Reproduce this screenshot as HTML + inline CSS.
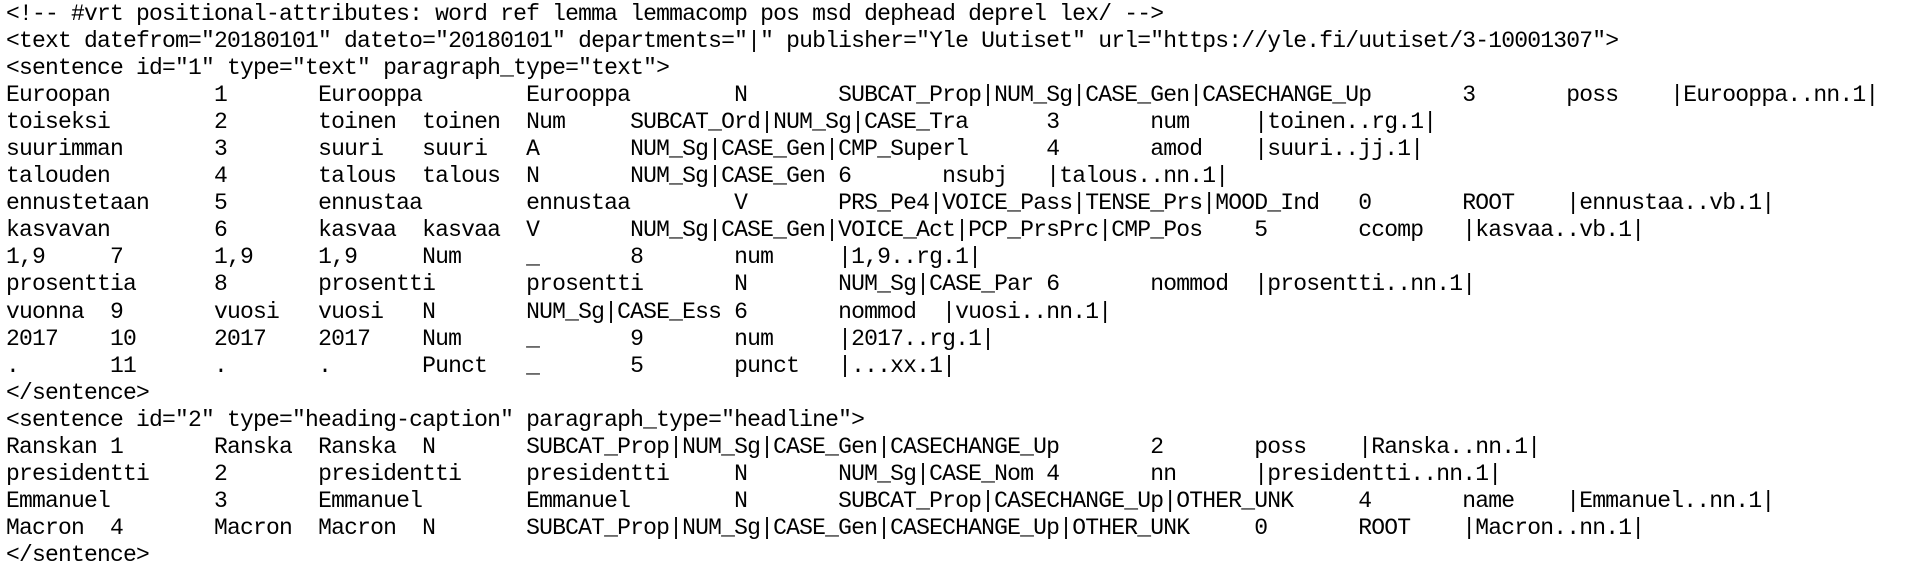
<!DOCTYPE html>
<html><head><meta charset="utf-8"><style>
html,body{margin:0;padding:0;background:#fff;width:1920px;height:570px;overflow:hidden}
pre{margin:0;position:absolute;left:6px;top:1px;font-family:"Liberation Mono",monospace;font-size:23px;letter-spacing:-0.8px;line-height:27.05px;tab-size:8;-moz-tab-size:8;color:#000;white-space:pre}
</style></head><body><pre>&lt;!-- #vrt positional-attributes: word ref lemma lemmacomp pos msd dephead deprel lex/ --&gt;
&lt;text datefrom="20180101" dateto="20180101" departments="|" publisher="Yle Uutiset" url="https://yle.fi/uutiset/3-10001307"&gt;
&lt;sentence id="1" type="text" paragraph_type="text"&gt;
Euroopan&#9;1&#9;Eurooppa&#9;Eurooppa&#9;N&#9;SUBCAT_Prop|NUM_Sg|CASE_Gen|CASECHANGE_Up&#9;3&#9;poss&#9;|Eurooppa..nn.1|
toiseksi&#9;2&#9;toinen&#9;toinen&#9;Num&#9;SUBCAT_Ord|NUM_Sg|CASE_Tra&#9;3&#9;num&#9;|toinen..rg.1|
suurimman&#9;3&#9;suuri&#9;suuri&#9;A&#9;NUM_Sg|CASE_Gen|CMP_Superl&#9;4&#9;amod&#9;|suuri..jj.1|
talouden&#9;4&#9;talous&#9;talous&#9;N&#9;NUM_Sg|CASE_Gen&#9;6&#9;nsubj&#9;|talous..nn.1|
ennustetaan&#9;5&#9;ennustaa&#9;ennustaa&#9;V&#9;PRS_Pe4|VOICE_Pass|TENSE_Prs|MOOD_Ind&#9;0&#9;ROOT&#9;|ennustaa..vb.1|
kasvavan&#9;6&#9;kasvaa&#9;kasvaa&#9;V&#9;NUM_Sg|CASE_Gen|VOICE_Act|PCP_PrsPrc|CMP_Pos&#9;5&#9;ccomp&#9;|kasvaa..vb.1|
1,9&#9;7&#9;1,9&#9;1,9&#9;Num&#9;_&#9;8&#9;num&#9;|1,9..rg.1|
prosenttia&#9;8&#9;prosentti&#9;prosentti&#9;N&#9;NUM_Sg|CASE_Par&#9;6&#9;nommod&#9;|prosentti..nn.1|
vuonna&#9;9&#9;vuosi&#9;vuosi&#9;N&#9;NUM_Sg|CASE_Ess&#9;6&#9;nommod&#9;|vuosi..nn.1|
2017&#9;10&#9;2017&#9;2017&#9;Num&#9;_&#9;9&#9;num&#9;|2017..rg.1|
.&#9;11&#9;.&#9;.&#9;Punct&#9;_&#9;5&#9;punct&#9;|...xx.1|
&lt;/sentence&gt;
&lt;sentence id="2" type="heading-caption" paragraph_type="headline"&gt;
Ranskan&#9;1&#9;Ranska&#9;Ranska&#9;N&#9;SUBCAT_Prop|NUM_Sg|CASE_Gen|CASECHANGE_Up&#9;2&#9;poss&#9;|Ranska..nn.1|
presidentti&#9;2&#9;presidentti&#9;presidentti&#9;N&#9;NUM_Sg|CASE_Nom&#9;4&#9;nn&#9;|presidentti..nn.1|
Emmanuel&#9;3&#9;Emmanuel&#9;Emmanuel&#9;N&#9;SUBCAT_Prop|CASECHANGE_Up|OTHER_UNK&#9;4&#9;name&#9;|Emmanuel..nn.1|
Macron&#9;4&#9;Macron&#9;Macron&#9;N&#9;SUBCAT_Prop|NUM_Sg|CASE_Gen|CASECHANGE_Up|OTHER_UNK&#9;0&#9;ROOT&#9;|Macron..nn.1|
&lt;/sentence&gt;</pre></body></html>
